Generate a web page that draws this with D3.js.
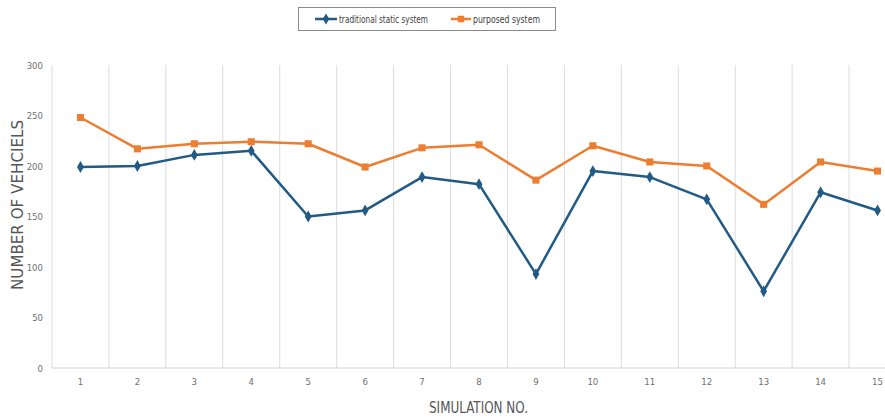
<!DOCTYPE html>
<html><head><meta charset="utf-8">
<script src="https://cdn.jsdelivr.net/npm/d3@7"></script>
<style>
html,body{margin:0;padding:0;background:#fff;}
svg{display:block;}
</style></head>
<body>
<svg id="chart" width="885" height="417"></svg>
<script>
const categories = ["1","2","3","4","5","6","7","8","9","10","11","12","13","14","15"];
const traditional = [199, 200, 211, 215, 150, 156, 189, 182, 93, 195, 189, 167, 76, 174, 156];
const purposed = [248, 217, 222, 224, 222, 199, 218, 221, 186, 220, 204, 200, 162, 204, 195];
const yTicks = [0, 50, 100, 150, 200, 250, 300];
const seriesNames = ["traditional static system", "purposed system"];
const colors = ["#215A85", "#ED7D31"];

const svg = d3.select("#chart");
const condensed = "'DejaVu Sans Condensed','Liberation Sans Narrow',sans-serif";

const x = d3.scaleBand().domain(categories).range([52, 906]);
const y = d3.scaleLinear().domain([0, 300]).range([368, 65]);

// vertical gridlines at band boundaries
const bounds = categories.map(c => x(c)).concat([x(categories[categories.length-1]) + x.bandwidth()]);
svg.append("g").selectAll("line").data(bounds).join("line")
  .attr("x1", d => d).attr("x2", d => d)
  .attr("y1", y(300)).attr("y2", y(0))
  .attr("stroke", "#dcdcdc").attr("stroke-width", 1);

// baseline
svg.append("line").attr("x1", 52).attr("x2", 906).attr("y1", y(0)).attr("y2", y(0))
  .attr("stroke", "#d0d0d0").attr("stroke-width", 1);

// y axis labels
const yAxis = d3.axisLeft(y).tickValues(yTicks).tickSize(0).tickPadding(9);
const gy = svg.append("g").attr("transform", "translate(52,0)").call(yAxis);
gy.select(".domain").remove();
gy.selectAll("text").attr("fill", "#707070").style("font-family", condensed).style("font-size", "9.5px");

// x axis labels
const xAxis = d3.axisBottom(x).tickSize(0).tickPadding(10);
const gx = svg.append("g").attr("transform", `translate(0,${y(0)})`).call(xAxis);
gx.select(".domain").remove();
gx.selectAll("text").attr("fill", "#707070").style("font-family", condensed).style("font-size", "9.5px");

// axis titles
svg.append("text").attr("x", 478.5).attr("y", 413).attr("text-anchor", "middle")
  .attr("fill", "#555").style("font-family", condensed).style("font-size", "15.5px")
  .attr("textLength", 99).attr("lengthAdjust", "spacingAndGlyphs")
  .text("SIMULATION NO.");
svg.append("text").attr("transform", "translate(23,205) rotate(-90)").attr("text-anchor", "middle")
  .attr("fill", "#555").style("font-family", "'DejaVu Sans',sans-serif").style("font-size", "15px")
  .attr("textLength", 170).attr("lengthAdjust", "spacingAndGlyphs")
  .text("NUMBER OF VEHCIELS");

const cx = c => x(c) + x.bandwidth() / 2;
const line = d3.line().x((d, i) => cx(categories[i])).y(d => y(d));

const allSeries = [traditional, purposed];
allSeries.forEach((data, s) => {
  svg.append("path").datum(data).attr("d", line).attr("fill", "none")
    .attr("stroke", colors[s]).attr("stroke-width", 2.5).attr("stroke-linejoin", "round");
  const sym = s === 0 ? d3.symbolDiamond : d3.symbolSquare;
  svg.append("g").selectAll("path").data(data).join("path")
    .attr("transform", (d, i) => `translate(${cx(categories[i])},${y(d)})`)
    .attr("d", d3.symbol().type(sym).size(s === 0 ? 40 : 50))
    .attr("fill", colors[s]);
});

// legend
const lg = svg.append("g");
lg.append("rect").attr("x", 298.5).attr("y", 7.5).attr("width", 257).attr("height", 23)
  .attr("fill", "#fff").attr("stroke", "#8a8a8a").attr("stroke-width", 1);
const legendItems = [
  {x: 315, w: 22, tx: 339, tw: 89, name: seriesNames[0]},
  {x: 451, w: 20, tx: 473, tw: 67, name: seriesNames[1]}
];
legendItems.forEach((it, s) => {
  lg.append("line").attr("x1", it.x).attr("x2", it.x + it.w).attr("y1", 19).attr("y2", 19)
    .attr("stroke", colors[s]).attr("stroke-width", 2.5);
  lg.append("path").attr("transform", `translate(${it.x + it.w / 2},19)`)
    .attr("d", d3.symbol().type(s === 0 ? d3.symbolDiamond : d3.symbolSquare).size(s === 0 ? 36 : 42))
    .attr("fill", colors[s]);
  lg.append("text").attr("x", it.tx).attr("y", 22.5).attr("fill", "#404040")
    .style("font-family", condensed).style("font-size", "10px")
    .attr("textLength", it.tw).attr("lengthAdjust", "spacingAndGlyphs")
    .text(it.name);
});
</script>
</body></html>
